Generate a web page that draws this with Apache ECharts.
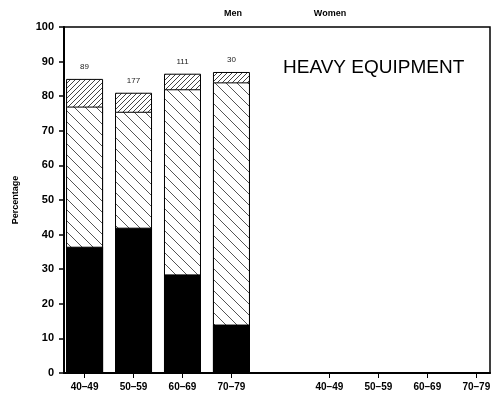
<!DOCTYPE html>
<html>
<head>
<meta charset="utf-8">
<script src="https://cdn.jsdelivr.net/npm/echarts@6/dist/echarts.min.js"></script>
<style>
  html, body { margin: 0; padding: 0; background: #fff; }
  #chart { width: 496px; height: 400px; }
</style>
</head>
<body>
<div id="chart"></div>
<script>
// age groups, shown once for men (slots 0-3) and once for women (slots 5-8)
var ageGroups = ['40–49', '50–59', '60–69', '70–79'];
var menSlots = [0, 1, 2, 3];
var womenSlots = [5, 6, 7, 8];

// men, parts of each bar (percent), bottom to top
var menSolid = [36.5, 42, 28.5, 14];
var menHatched = [40.5, 33.5, 53.5, 70];
var menTop = [8, 5.5, 4.5, 3];
var menN = ['89', '177', '111', '30'];

var yTicks = [0, 10, 20, 30, 40, 50, 60, 70, 80, 90, 100];

// hatch patterns drawn on small canvases
function hatch(size, dir, color, lw) {
    var c = document.createElement('canvas');
    c.width = size;
    c.height = size;
    var ctx = c.getContext('2d');
    ctx.fillStyle = '#fff';
    ctx.fillRect(0, 0, size, size);
    ctx.strokeStyle = color;
    ctx.lineWidth = lw;
    ctx.beginPath();
    for (var k = -1; k <= 1; k++) {
        if (dir === 'back') {
            ctx.moveTo(k * size, 0);
            ctx.lineTo(k * size + size, size);
        } else {
            ctx.moveTo(k * size, size);
            ctx.lineTo(k * size + size, 0);
        }
    }
    ctx.stroke();
    return c;
}
var midPattern = { image: hatch(11, 'back', '#555', 1), repeat: 'repeat' };
var topPattern = { image: hatch(5, 'fwd', '#444', 1), repeat: 'repeat' };

// cumulative heights, so the bars can be overlaid
var cumMid = menSolid.map(function (v, i) { return v + menHatched[i]; });
var cumTop = cumMid.map(function (v, i) { return v + menTop[i]; });

function pairs(slots, vals) {
    return slots.map(function (s, i) { return [s, vals[i]]; });
}

var allSlots = menSlots.concat(womenSlots);
function slotLabel(v) {
    var r = Math.round(v);
    var i = menSlots.indexOf(r);
    if (i >= 0) return ageGroups[i];
    i = womenSlots.indexOf(r);
    if (i >= 0) return ageGroups[i];
    return '';
}

var myChart = echarts.init(document.getElementById('chart'));
var barStyle = { borderColor: '#000', borderWidth: 1 };
myChart.setOption({
    animation: false,
    backgroundColor: '#fff',
    grid: {
        left: 64, right: 6, top: 27, bottom: 27,
        containLabel: false,
        show: true, borderColor: '#000', borderWidth: 1.5
    },
    xAxis: {
        type: 'value',
        min: -0.42,
        max: 8.28,
        splitLine: { show: false },
        axisLine: { show: true, onZero: false, lineStyle: { color: '#000', width: 2 } },
        axisTick: { show: true, customValues: allSlots, inside: false, length: 5, lineStyle: { color: '#000' } },
        axisLabel: {
            customValues: allSlots,
            formatter: slotLabel,
            color: '#000', fontSize: 10, fontWeight: 'bold',
            fontFamily: 'Liberation Sans, Arial', margin: 9
        }
    },
    yAxis: {
        type: 'value',
        min: 0, max: 100, interval: 10,
        name: 'Percentage',
        nameLocation: 'middle',
        nameGap: 44,
        nameTextStyle: { color: '#000', fontSize: 9, fontWeight: 'bold', fontFamily: 'Liberation Sans, Arial' },
        splitLine: { show: false },
        axisLine: { show: true, onZero: false, lineStyle: { color: '#000', width: 2 } },
        axisTick: { show: true, length: 5, lineStyle: { color: '#000', width: 1.5 } },
        axisLabel: {
            color: '#000', fontSize: 11, fontWeight: 'bold',
            fontFamily: 'Liberation Sans, Arial', margin: 10,
            formatter: function (v) { return yTicks.indexOf(v) >= 0 ? String(v) : ''; }
        }
    },
    series: [
        {
            type: 'bar', barWidth: 37, barGap: '-100%', z: 2,
            data: pairs(menSlots, cumTop),
            itemStyle: Object.assign({ color: topPattern }, barStyle),
            label: {
                show: true, position: 'top', distance: 8,
                color: '#222', fontSize: 8, fontFamily: 'Liberation Sans, Arial',
                formatter: function (p) { return menN[p.dataIndex]; }
            }
        },
        {
            type: 'bar', barWidth: 37, barGap: '-100%', z: 3,
            data: pairs(menSlots, cumMid),
            itemStyle: Object.assign({ color: midPattern }, barStyle)
        },
        {
            type: 'bar', barWidth: 37, barGap: '-100%', z: 4,
            data: pairs(menSlots, menSolid),
            itemStyle: Object.assign({ color: '#000' }, barStyle)
        }
    ],
    graphic: [
        {
            type: 'text', x: 233, y: 14,
            style: { text: 'Men', fill: '#000', font: 'bold 9px Liberation Sans, Arial', textAlign: 'center', textVerticalAlign: 'middle' }
        },
        {
            type: 'text', x: 330, y: 14,
            style: { text: 'Women', fill: '#000', font: 'bold 9px Liberation Sans, Arial', textAlign: 'center', textVerticalAlign: 'middle' }
        },
        {
            type: 'text', x: 283, y: 68,
            style: { text: 'HEAVY EQUIPMENT', fill: '#000', font: '19px Liberation Sans, Arial', textAlign: 'left', textVerticalAlign: 'middle' }
        }
    ]
});
</script>
</body>
</html>
